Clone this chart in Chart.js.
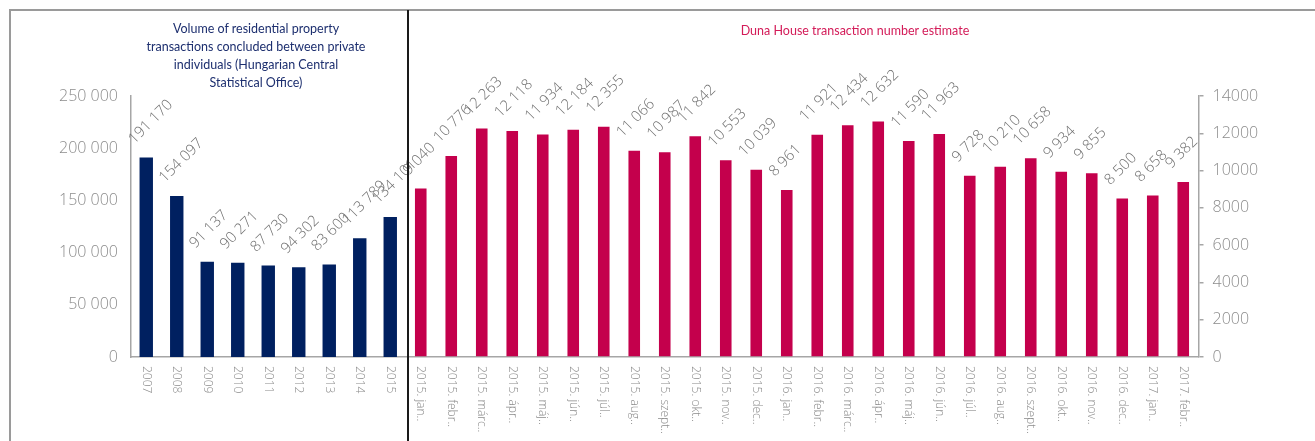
<!DOCTYPE html>
<html>
<head>
<meta charset="utf-8">
<script src="https://cdn.jsdelivr.net/npm/chart.js@4"></script>
<style>
  html, body { margin: 0; padding: 0; background: #fff; }
  #wrap { position: relative; width: 1315px; height: 441px; overflow: hidden; }
  #frame { position: absolute; left: 9px; top: 9px; right: -5px; bottom: -5px; border-left: 2px solid #9a9a9a; border-top: 2px solid #9a9a9a; }
  #divider { position: absolute; left: 407px; top: 10px; width: 2px; height: 431px; background: #1a1a1a; }
  .titre { position: absolute; font-family: Lato, "Open Sans", sans-serif; font-size: 12.5px; line-height: 18px; text-align: center; }
  #titreKsh { left: 136px; top: 20px; width: 240px; color: #1d2f6f; }
  #titreDuna { left: 705px; top: 22px; width: 300px; color: #d31b58; }
</style>
</head>
<body>
<div id="wrap">
  <canvas id="chartTranzakciok" width="1315" height="441"></canvas>
  <div id="frame"></div>
  <div id="divider"></div>
  <div class="titre" id="titreKsh">Volume of residential property<br>transactions concluded between private<br>individuals (Hungarian Central<br>Statistical Office)</div>
  <div class="titre" id="titreDuna">Duna House transaction number estimate</div>
</div>
<script>
// ===== DONNÉES =====
const evek = ['2007','2008','2009','2010','2011','2012','2013','2014','2015']
const kshErtekek = [191170, 154097, 91137, 90271, 87730, 86000, 88600, 113789, 134101]
// cimkek ahogy a kepen szerepelnek
const kshCimkek = ['191 170','154 097','91 137','90 271','87 730','94 302','83 600','113 789','134 101']

const honapok = ['2015. jan..','2015. febr..','2015. márc..','2015. ápr..','2015. máj..','2015. jún..','2015. júl..','2015. aug..','2015. szept..','2015. okt..','2015. nov..','2015. dec..',
  '2016. jan..','2016. febr..','2016. márc..','2016. ápr..','2016. máj..','2016. jún..','2016. júl..','2016. aug..','2016. szept..','2016. okt..','2016. nov..','2016. dec..',
  '2017. jan..','2017. febr..']
const dunaErtekek = [9040, 10776, 12263, 12118, 11934, 12184, 12355, 11066, 10987, 11842, 10553, 10039,
  8961, 11921, 12434, 12632, 11590, 11963, 9728, 10210, 10658, 9934, 9855, 8500,
  8658, 9382]

const kshTicks = [0, 50000, 100000, 150000, 200000, 250000]
const dunaTicks = [0, 2000, 4000, 6000, 8000, 10000, 12000, 14000]

const kek = '#002060'
const piros = '#c4004c'
const szurke = '#8c8c8c'
const tengely = '#a6a6a6'
const betu = '"Open Sans", Lato, sans-serif'

function ezres(v) {
    return String(v).replace(/\B(?=(\d{3})+(?!\d))/g, ' ')
}

const osszesCimke = evek.concat(honapok)
const ures = n => Array(n).fill(null)

// ===== CIMKEK PLUGIN =====
const cimkePlugin = {
    id: 'cimkek',
    afterDraw(chart) {
        const ctx = chart.ctx
        const xs = chart.scales.x
        // x tengely feliratok, lefele olvasva
        ctx.save()
        ctx.fillStyle = szurke
        ctx.font = '300 12px ' + betu
        ctx.textAlign = 'left'
        ctx.textBaseline = 'middle'
        osszesCimke.forEach((c, i) => {
            ctx.save()
            ctx.translate(xs.getPixelForValue(i), xs.top + 9)
            ctx.rotate(Math.PI / 2)
            ctx.fillText(c, 0, 0)
            ctx.restore()
        })
        ctx.restore()

        // ertek cimkek 45 fokban
        chart.data.datasets.forEach((ds, di) => {
            const meta = chart.getDatasetMeta(di)
            meta.data.forEach((bar, i) => {
                if(ds.data[i] === null) return
                const szoveg = di === 0 ? kshCimkek[i] : ezres(ds.data[i])
                ctx.save()
                ctx.translate(bar.x - 12, bar.y - 13)
                ctx.rotate(-Math.PI / 4)
                ctx.fillStyle = '#707070'
                ctx.font = '300 15px ' + betu
                ctx.textAlign = 'left'
                ctx.textBaseline = 'alphabetic'
                ctx.fillText(szoveg, 0, 0)
                ctx.restore()
            })
        })
    }
}

// ===== GRAFIKON =====
const ctxTr = document.getElementById('chartTranzakciok')
new Chart(ctxTr, {
    type: 'bar',
    data: {
        labels: osszesCimke,
        datasets: [{
            label: 'KSH',
            data: kshErtekek.concat(ures(honapok.length)),
            backgroundColor: kek,
            yAxisID: 'y',
            barPercentage: 0.44
        }, {
            label: 'Duna House',
            data: ures(evek.length).concat(dunaErtekek),
            backgroundColor: piros,
            yAxisID: 'y1',
            barPercentage: 0.38
        }]
    },
    options: {
        responsive: false,
        animation: false,
        layout: { padding: { top: 96, left: 0, right: 0, bottom: 0 } },
        datasets: { bar: { grouped: false, categoryPercentage: 1 } },
        plugins: { legend: { display: false }, tooltip: { enabled: false } },
        scales: {
            x: {
                offset: true,
                grid: { display: false, drawTicks: false },
                border: { display: true, color: tengely, width: 1.5 },
                ticks: { display: false },
                afterFit(s) { s.height = 84 }
            },
            y: {
                position: 'left',
                min: 0,
                max: 250000,
                afterBuildTicks(s) { s.ticks = kshTicks.map(v => ({ value: v })) },
                grid: { display: false, drawTicks: false },
                border: { display: true, color: tengely, width: 1.5 },
                ticks: { padding: 13, color: szurke, font: { family: betu, size: 16, weight: '300' }, callback: v => ezres(v) },
                afterFit(s) { s.width = 131 }
            },
            y1: {
                position: 'right',
                min: 0,
                max: 14000,
                afterBuildTicks(s) { s.ticks = dunaTicks.map(v => ({ value: v })) },
                grid: { display: true, drawOnChartArea: false, drawTicks: true, tickLength: 5, color: tengely, lineWidth: 1.5 },
                border: { display: true, color: tengely, width: 1.5 },
                ticks: { padding: 9, color: szurke, font: { family: betu, size: 16, weight: '300' }, callback: v => String(v) },
                afterFit(s) { s.width = 116.5 }
            }
        }
    },
    plugins: [cimkePlugin]
})
</script>
</body>
</html>
